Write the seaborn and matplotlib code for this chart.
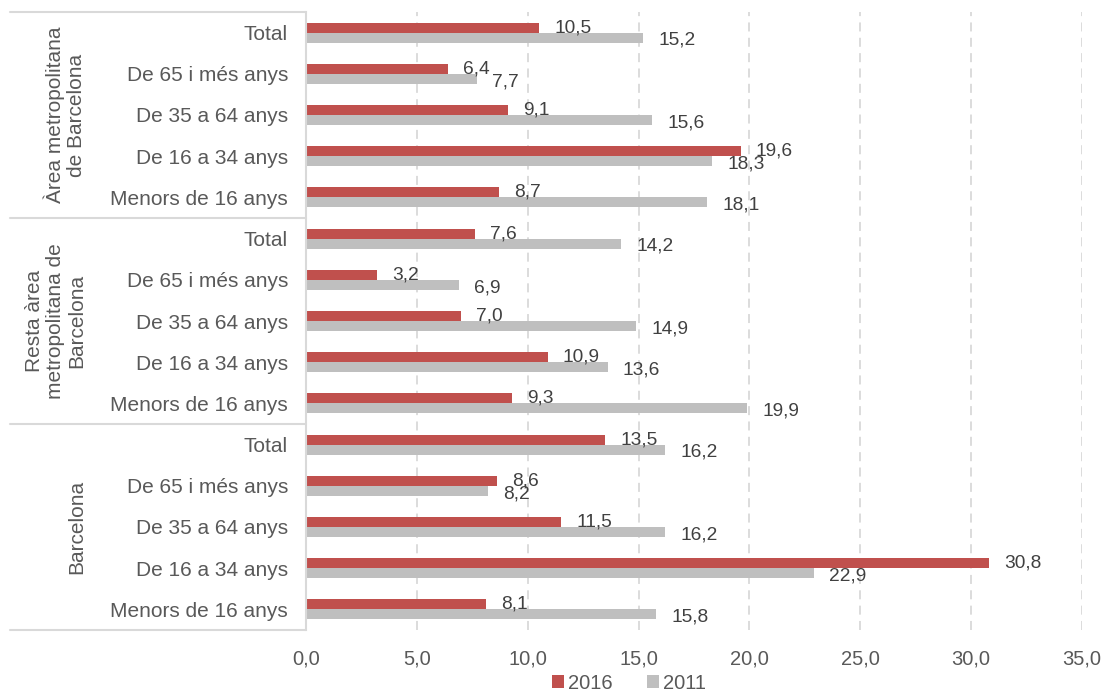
import numpy as np
import pandas as pd
import matplotlib
matplotlib.use("Agg")
import matplotlib.pyplot as plt
import seaborn as sns
from matplotlib.patches import Patch
from matplotlib.transforms import blended_transform_factory

# ---- data ----
groups = ["Àrea metropolitana\nde Barcelona",
          "Resta àrea\nmetropolitana de\nBarcelona",
          "Barcelona"]
ages = ["Total", "De 65 i més anys", "De 35 a 64 anys",
        "De 16 a 34 anys", "Menors de 16 anys"]
years = ["2016", "2011"]
v2016 = [10.5, 6.4, 9.1, 19.6, 8.7,
         7.6, 3.2, 7.0, 10.9, 9.3,
         13.5, 8.6, 11.5, 30.8, 8.1]
v2011 = [15.2, 7.7, 15.6, 18.3, 18.1,
         14.2, 6.9, 14.9, 13.6, 19.9,
         16.2, 8.2, 16.2, 22.9, 15.8]
xticks = [0, 5, 10, 15, 20, 25, 30, 35]
colors = ["#C0504D", "#BFBFBF"]

cats = [f"{g}|{a}" for g in groups for a in ages]
age_labels = [a for g in groups for a in ages]
df = pd.DataFrame({
    "cat": cats * 2,
    "year": [years[0]] * len(cats) + [years[1]] * len(cats),
    "value": v2016 + v2011,
})

sns.set_theme(style="white")
plt.rcParams["font.family"] = ["Liberation Sans", "DejaVu Sans"]

W, H = 1108, 693
fig = plt.figure(figsize=(W / 100, H / 100), dpi=100)
ax = fig.add_axes([306 / W, 1 - 630 / H, 776 / W, 618 / H])

sns.barplot(data=df, y="cat", x="value", hue="year", hue_order=years,
            order=cats, palette=colors, width=0.485, orient="h", ax=ax,
            legend=False, linewidth=0, saturation=1, errorbar=None)

ax.set_xlim(0, 35)
ax.set_ylim(14.5, -0.5)
ax.set_xlabel("")
ax.set_ylabel("")
ax.set_xticks(xticks)
ax.set_xticklabels([f"{t:.1f}".replace(".", ",") for t in xticks],
                   fontsize=14.5, color="#595959")
ax.set_yticks(range(len(cats)))
ax.set_yticklabels(age_labels, fontsize=15, color="#595959")
ax.tick_params(axis="y", length=0, pad=13)
ax.tick_params(axis="x", length=0, pad=14)

ax.set_axisbelow(True)
ax.xaxis.grid(True, color="#D9D9D9", linestyle=(0, (5, 3.5)), lw=1.3)
for s in ["top", "right", "bottom"]:
    ax.spines[s].set_visible(False)
ax.spines["left"].set_color("#D9D9D9")
ax.spines["left"].set_linewidth(1.5)

# value labels
for ci, cont in enumerate(ax.containers):
    dy = 0 if ci == 0 else -2
    for p in cont.patches:
        w = p.get_width()
        yc = p.get_y() + p.get_height() / 2
        ax.annotate(f"{w:.1f}".replace(".", ","), xy=(w, yc),
                    xytext=(11, dy), textcoords="offset points",
                    ha="left", va="center", fontsize=13.8, color="#404040")

# group separators and labels
trans = blended_transform_factory(ax.transAxes, ax.transData)
for yb in [-0.5, 4.5, 9.5, 14.5]:
    ax.plot([-0.381, 0], [yb, yb], transform=trans, color="#D9D9D9",
            lw=1.5, clip_on=False)
for gi, g in enumerate(groups):
    ax.text(-0.283, gi * 5 + 2, g, transform=trans, rotation=90,
            ha="right", va="center", ma="center", fontsize=15,
            color="#595959", linespacing=1.15)

handles = [Patch(facecolor=c, edgecolor="none") for c in colors]
fig.legend(handles, years, loc="center", bbox_to_anchor=(0.568, 0.0144),
           ncol=2, frameon=False, fontsize=14.5, handlelength=0.6,
           handleheight=0.6, handletextpad=0.2, columnspacing=1.7,
           labelcolor="#595959", borderaxespad=0, borderpad=0)

fig.savefig("out.png", dpi=100)
